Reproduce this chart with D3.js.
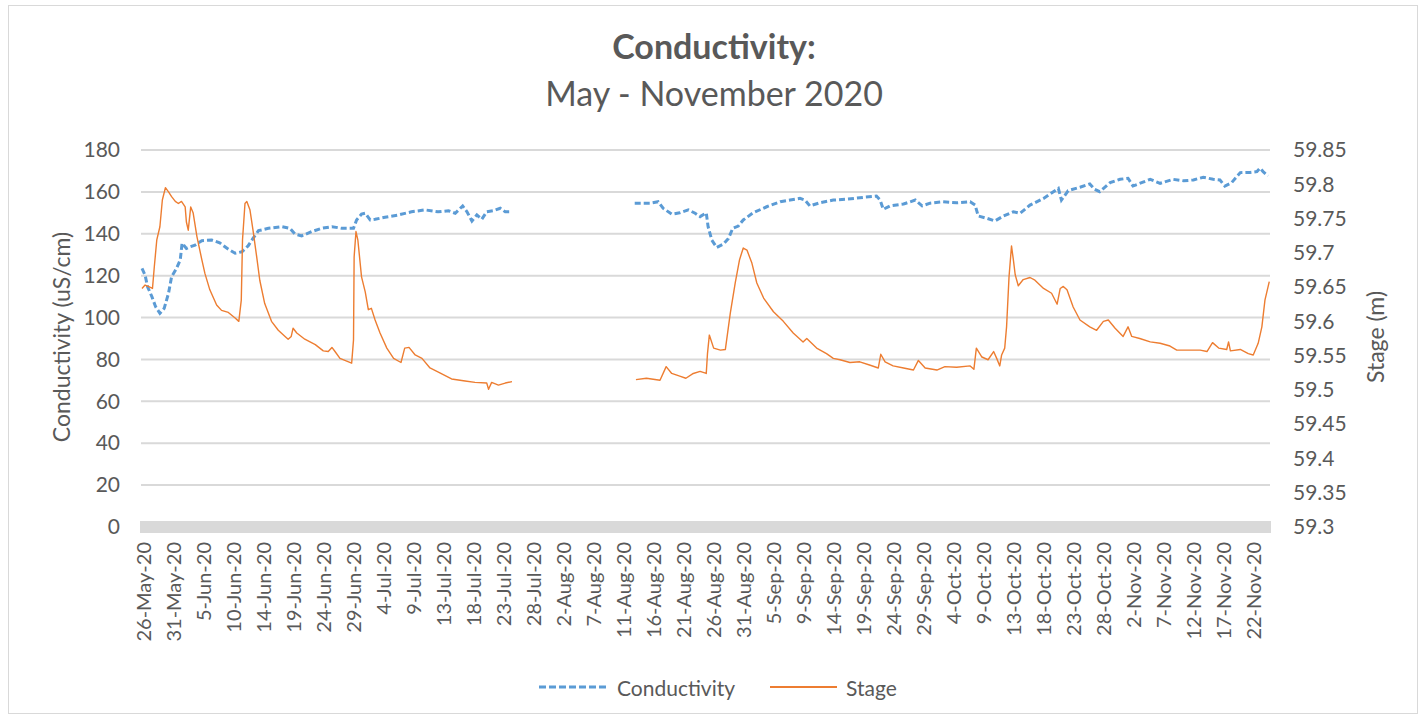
<!DOCTYPE html>
<html>
<head>
<meta charset="utf-8">
<script src="https://cdn.jsdelivr.net/npm/d3@7"></script>
<style>
  body { margin: 0; background: #fff; }
  svg text { font-family: Lato, "Open Sans", sans-serif; fill: #595959; }
</style>
</head>
<body>
<div id="chart"></div>
<script>
// x labels of the category axis (one every few samples)
const tickLabels = ["26-May-20", "31-May-20", "5-Jun-20", "10-Jun-20", "14-Jun-20", "19-Jun-20",
  "24-Jun-20", "29-Jun-20", "4-Jul-20", "9-Jul-20", "13-Jul-20", "18-Jul-20", "23-Jul-20",
  "28-Jul-20", "2-Aug-20", "7-Aug-20", "11-Aug-20", "16-Aug-20", "21-Aug-20", "26-Aug-20",
  "31-Aug-20", "5-Sep-20", "9-Sep-20", "14-Sep-20", "19-Sep-20", "24-Sep-20", "29-Sep-20",
  "4-Oct-20", "9-Oct-20", "13-Oct-20", "18-Oct-20", "23-Oct-20", "28-Oct-20", "2-Nov-20",
  "7-Nov-20", "12-Nov-20", "17-Nov-20", "22-Nov-20"];

const condTicks = [0, 20, 40, 60, 80, 100, 120, 140, 160, 180];
const stageTicks = [59.3, 59.35, 59.4, 59.45, 59.5, 59.55, 59.6, 59.65, 59.7, 59.75, 59.8, 59.85];

// days since 26-May-20, null = logger gap
const condDays = [0, 0.5, 0.9, 1.6, 2.2, 2.9, 3.6, 4.3, 4.8, 5.6, 6.2, 6.5, 7.2, 7.8, 8.6, 9.7,
  11.3, 12.6, 14.0, 15.1, 16.2, 17.2, 18.0, 18.9, 20.5, 22.7, 24.0, 24.8, 25.9, 27.5, 29.1,
  30.8, 32.4, 34.3, 34.8, 35.6, 36.2, 37.0, 37.8, 39.4, 41.6, 43.7, 45.9, 48.0, 49.7, 50.8,
  52.0, 52.7, 53.5, 54.3, 55.1, 55.9, 57.0, 58.1, 58.9, 60.0, null,
  79.9, 82.4, 83.7, 84.5, 85.9, 87.2, 88.6, 89.7, 90.5, 91.5, 91.8, 92.4, 93.2, 94.3, 95.1,
  95.8, 96.7, 97.5, 99.1, 101.3, 103.5, 105.1, 106.7, 107.5, 108.3, 109.9, 112.1, 114.3,
  117.0, 119.1, 119.7, 120.2, 121.3, 123.5, 125.4, 126.5, 127.8, 129.9, 132.1, 134.3, 135.1,
  135.6, 137.0, 138.3, 139.7, 141.3, 142.4, 144.0, 146.2, 147.8, 148.6, 149.1, 150.2, 152.1,
  153.7, 154.5, 155.3, 157.0, 158.6, 159.9, 160.7, 162.1, 163.5, 165.1, 167.2, 168.9, 170.5,
  172.1, 173.7, 174.8, 175.6, 176.7, 178.1, 179.7, 180.8, 181.3, 181.8, 182.6];
const condValues = [123.5, 120.3, 114.7, 110.0, 105.2, 102.0, 104.4, 111.6, 119.5, 123.5, 127.5,
  135.5, 133.0, 133.8, 134.6, 136.7, 137.0, 135.7, 132.6, 130.7, 131.4, 134.2, 137.8, 141.5,
  142.6, 143.4, 142.6, 139.9, 139.0, 141.0, 142.6, 143.4, 142.6, 142.6, 146.6, 149.4, 149.8,
  146.6, 146.9, 147.9, 149.0, 150.5, 151.4, 150.5, 151.0, 149.8, 153.3, 150.5, 146.1, 149.0,
  146.9, 150.5, 151.0, 152.2, 150.5, 150.5, null,
  154.6, 154.6, 155.3, 152.2, 149.4, 150.0, 151.4, 149.8, 148.2, 150.0, 143.4, 137.0, 133.5,
  135.1, 137.8, 142.6, 143.7, 146.6, 150.0, 152.9, 155.3, 156.1, 156.9, 156.1, 153.3, 154.8,
  156.1, 156.5, 157.4, 158.0, 156.1, 151.7, 153.3, 154.2, 156.1, 153.3, 154.6, 155.3, 154.8,
  155.3, 153.7, 148.5, 147.4, 146.1, 148.5, 150.5, 149.8, 153.7, 156.9, 160.1, 161.7, 156.1,
  160.6, 162.2, 163.8, 161.2, 160.1, 164.4, 166.0, 166.5, 162.8, 164.4, 166.0, 164.1, 166.0,
  165.3, 165.7, 167.0, 166.0, 165.7, 162.8, 164.4, 169.2, 169.3, 169.7, 171.3, 169.7, 167.6];

const stageDays = [0, 0.5, 1.0, 1.7, 2.0, 2.4, 2.9, 3.3, 3.8, 4.3, 4.8, 5.4, 5.9, 6.4, 7.0, 7.2,
  7.5, 7.9, 8.3, 8.9, 9.7, 10.2, 11.0, 12.1, 12.9, 14.0, 15.1, 15.7, 16.1, 16.3, 16.7, 17.0,
  17.5, 18.0, 18.6, 19.1, 19.9, 21.0, 22.1, 23.2, 23.7, 24.2, 24.5, 25.1, 26.4, 28.1, 29.4,
  30.2, 30.8, 31.3, 32.1, 33.2, 34.0, 34.3, 34.4, 34.7, 35.0, 35.6, 36.2, 36.7, 37.2, 37.8,
  38.6, 39.7, 40.8, 42.0, 42.6, 43.3, 44.3, 45.4, 46.7, 48.3, 50.2, 52.4, 54.0, 55.9, 56.2,
  56.7, 57.8, 58.9, 60.0, null,
  80.1, 81.8, 84.0, 85.0, 85.9, 87.2, 88.2, 89.4, 90.5, 91.5, 91.7, 92.0, 92.7, 93.8, 94.6,
  95.4, 96.2, 96.9, 97.5, 98.1, 98.9, 99.7, 100.8, 102.4, 104.0, 105.6, 107.2, 107.8, 109.4,
  111.0, 112.1, 113.2, 114.8, 116.4, 118.1, 119.4, 119.8, 120.5, 121.8, 123.5, 125.1, 125.9,
  127.0, 128.9, 130.2, 132.1, 134.3, 134.9, 135.3, 136.2, 137.2, 138.1, 138.6, 139.1, 139.4,
  139.9, 140.2, 140.6, 141.0, 141.3, 141.6, 142.1, 142.9, 144.0, 144.8, 146.2, 147.5, 148.4,
  148.9, 149.4, 150.0, 151.0, 152.1, 153.7, 154.8, 155.9, 156.7, 157.8, 159.1, 159.9, 160.5,
  161.8, 163.5, 165.1, 166.7, 167.8, 169.4, 171.6, 172.7, 173.6, 174.6, 175.9, 176.2, 176.5,
  178.1, 179.4, 180.2, 181.0, 181.6, 182.1, 182.8];
const stageValues = [59.648, 59.653, 59.651, 59.648, 59.680, 59.719, 59.738, 59.777, 59.795,
  59.789, 59.782, 59.775, 59.772, 59.775, 59.767, 59.745, 59.733, 59.767, 59.758, 59.724,
  59.690, 59.670, 59.646, 59.624, 59.616, 59.613, 59.605, 59.600, 59.631, 59.719, 59.772,
  59.775, 59.763, 59.733, 59.694, 59.660, 59.626, 59.600, 59.587, 59.578, 59.574, 59.578,
  59.590, 59.583, 59.574, 59.566, 59.557, 59.556, 59.562, 59.556, 59.546, 59.542, 59.539,
  59.573, 59.694, 59.731, 59.719, 59.665, 59.643, 59.617, 59.619, 59.602, 59.583, 59.561,
  59.546, 59.540, 59.561, 59.562, 59.551, 59.546, 59.532, 59.525, 59.516, 59.513, 59.511,
  59.510, 59.501, 59.511, 59.507, 59.510, 59.512, null,
  59.515, 59.517, 59.514, 59.534, 59.524, 59.520, 59.517, 59.524, 59.527, 59.524, 59.553,
  59.580, 59.561, 59.558, 59.559, 59.612, 59.656, 59.690, 59.707, 59.704, 59.685, 59.656,
  59.634, 59.614, 59.600, 59.583, 59.570, 59.575, 59.561, 59.553, 59.546, 59.544, 59.540,
  59.541, 59.536, 59.532, 59.552, 59.541, 59.535, 59.532, 59.529, 59.543, 59.532, 59.529,
  59.534, 59.533, 59.535, 59.530, 59.561, 59.548, 59.544, 59.556, 59.546, 59.535, 59.551,
  59.561, 59.592, 59.665, 59.710, 59.690, 59.668, 59.652, 59.661, 59.664, 59.660, 59.648,
  59.641, 59.625, 59.648, 59.651, 59.646, 59.621, 59.602, 59.592, 59.587, 59.600, 59.602,
  59.590, 59.578, 59.592, 59.578, 59.575, 59.570, 59.568, 59.564, 59.558, 59.558, 59.558,
  59.556, 59.569, 59.561, 59.559, 59.570, 59.557, 59.559, 59.553, 59.551, 59.568, 59.592,
  59.631, 59.658];

const W = 1427, H = 721;
const plot = { left: 141, right: 1270, top: 150, bottom: 527 };
const condColor = "#5b9bd5", stageColor = "#ed7d31";

const svg = d3.select("#chart").append("svg").attr("width", W).attr("height", H);

// outer chart frame
svg.append("rect").attr("x", 8.5).attr("y", 5.5).attr("width", 1409).attr("height", 708)
  .attr("fill", "#fff").attr("stroke", "#d9d9d9");

// scales
const lastDay = 180; // 22-Nov label
const x = d3.scaleLinear().domain([0, lastDay]).range([142, 142 + 30 * (tickLabels.length - 1)]);
const yL = d3.scaleLinear().domain([0, 180]).range([plot.bottom, plot.top]);
const yR = d3.scaleLinear().domain([59.3, 59.85]).range([plot.bottom, plot.top]);
const tickDay = tickLabels.map((d, i) => i * lastDay / (tickLabels.length - 1));

// title
svg.append("text").attr("x", 714).attr("y", 59).attr("text-anchor", "middle")
  .style("font-size", "34px").style("font-weight", "bold").text("Conductivity:");
svg.append("text").attr("x", 714).attr("y", 106).attr("text-anchor", "middle")
  .style("font-size", "34px").text("May - November 2020");

// gridlines
svg.append("g").selectAll("line").data(condTicks.filter(d => d > 0)).join("line")
  .attr("x1", plot.left).attr("x2", plot.right)
  .attr("y1", d => yL(d)).attr("y2", d => yL(d))
  .attr("stroke", "#d9d9d9").attr("stroke-width", 2);

// thick grey base line at zero
svg.append("rect").attr("x", plot.left - 1).attr("y", yL(0) - 6)
  .attr("width", plot.right - plot.left + 2).attr("height", 12).attr("fill", "#d9d9d9");

// left axis
const axL = svg.append("g").attr("transform", `translate(${plot.left},0)`)
  .call(d3.axisLeft(yL).tickValues(condTicks).tickSize(0).tickPadding(21));
axL.select(".domain").remove();
axL.selectAll("text").style("font-size", "21px").attr("fill", "#595959");

// right axis
const axR = svg.append("g").attr("transform", `translate(${plot.right},0)`)
  .call(d3.axisRight(yR).tickValues(stageTicks).tickSize(0).tickPadding(23)
    .tickFormat(d3.format("")));
axR.select(".domain").remove();
axR.selectAll("text").style("font-size", "21px").attr("fill", "#595959");

// bottom axis, labels rotated
const axB = svg.append("g").attr("transform", `translate(0,${plot.bottom})`)
  .call(d3.axisBottom(x).tickValues(tickDay).tickSize(0)
    .tickFormat((d, i) => tickLabels[i]));
axB.select(".domain").remove();
axB.selectAll("text")
  .style("font-size", "20px").attr("fill", "#595959")
  .attr("text-anchor", "end").attr("dy", null).attr("y", 0)
  .attr("dominant-baseline", "central")
  .attr("transform", "translate(0,15) rotate(-90)");

// axis titles
svg.append("text").attr("transform", "translate(61,337) rotate(-90)")
  .attr("text-anchor", "middle").attr("dominant-baseline", "central")
  .style("font-size", "23px").text("Conductivity (uS/cm)");
svg.append("text").attr("transform", "translate(1375,337) rotate(-90)")
  .attr("text-anchor", "middle").attr("dominant-baseline", "central")
  .style("font-size", "23px").text("Stage (m)");

// series
const condData = condDays.map((d, i) => (d === null ? null : [d, condValues[i]]));
const stageData = stageDays.map((d, i) => (d === null ? null : [d, stageValues[i]]));

const lineL = d3.line().defined(d => d !== null).x(d => x(d[0])).y(d => yL(d[1]));
const lineR = d3.line().defined(d => d !== null).x(d => x(d[0])).y(d => yR(d[1]));

svg.append("path").datum(condData).attr("d", lineL)
  .attr("fill", "none").attr("stroke", condColor).attr("stroke-width", 3)
  .attr("stroke-dasharray", "6,3");

svg.append("path").datum(stageData).attr("d", lineR)
  .attr("fill", "none").attr("stroke", stageColor).attr("stroke-width", 1.4)
  .attr("stroke-linejoin", "round");

// legend
const legend = svg.append("g").attr("transform", "translate(0,687)");
legend.append("line").attr("x1", 539).attr("x2", 608).attr("y1", 0).attr("y2", 0)
  .attr("stroke", condColor).attr("stroke-width", 3).attr("stroke-dasharray", "7,3");
legend.append("text").attr("x", 617).attr("y", 0).attr("dominant-baseline", "central")
  .style("font-size", "21px").text("Conductivity");
legend.append("line").attr("x1", 770).attr("x2", 837).attr("y1", 0).attr("y2", 0)
  .attr("stroke", stageColor).attr("stroke-width", 2);
legend.append("text").attr("x", 846).attr("y", 0).attr("dominant-baseline", "central")
  .style("font-size", "21px").text("Stage");
</script>
</body>
</html>
